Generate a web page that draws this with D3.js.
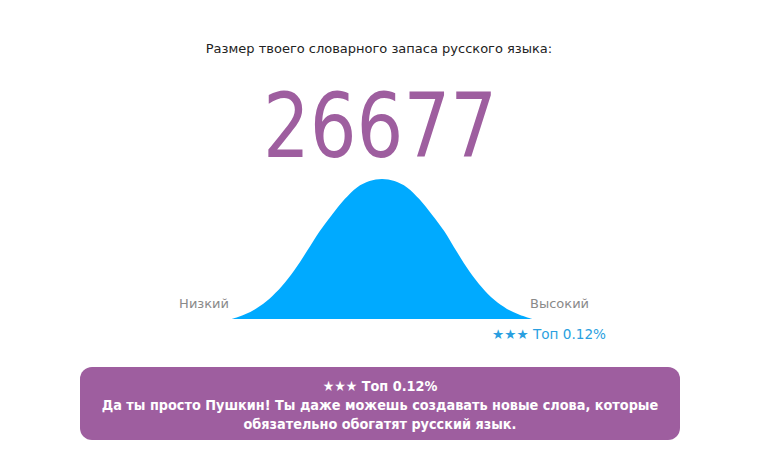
<!DOCTYPE html>
<html lang="ru">
<head>
<meta charset="UTF-8">
<title>Словарный запас</title>
<script src="https://cdnjs.cloudflare.com/ajax/libs/d3/7.8.5/d3.min.js"></script>
<style>
  html, body { margin: 0; padding: 0; background: #fff; }
  svg { display: block; }
</style>
</head>
<body>
<div id="chart"></div>
<script>
// Data
var title = "Размер твоего словарного запаса русского языка:";
var score = "26677";
var axisLabels = ["Низкий", "Высокий"];
var rankLabel = "★★★ Топ 0.12%";
var messageLines = [
  "★★★ Топ 0.12%",
  "Да ты просто Пушкин! Ты даже можешь создавать новые слова, которые",
  "обязательно обогатят русский язык."
];
// bell curve: position (in std units) and relative height
var curveX = [-3, -2.75, -2.5, -2.25, -2, -1.75, -1.5, -1.25, -1, -0.75, -0.5, -0.25, 0,
              0.25, 0.5, 0.75, 1, 1.25, 1.5, 1.75, 2, 2.25, 2.5, 2.75, 3];
var curveY = [0, 0.032, 0.078, 0.145, 0.235, 0.35, 0.485, 0.625, 0.745, 0.855, 0.94, 0.985, 1,
              0.985, 0.94, 0.855, 0.745, 0.625, 0.478, 0.34, 0.225, 0.135, 0.072, 0.03, 0];

var w = 766, h = 457;
var purple = "#9e5e9f";
var blue = "#00aaff";

var svg = d3.select("#chart").append("svg")
  .attr("width", w)
  .attr("height", h);

// heading and score
svg.append("text")
  .attr("x", 379).attr("y", 53)
  .attr("text-anchor", "middle")
  .attr("font-family", "DejaVu Sans")
  .attr("font-size", "13px")
  .attr("fill", "#222")
  .text(title);

svg.append("text")
  .attr("x", 380).attr("y", 157)
  .attr("text-anchor", "middle")
  .attr("font-family", "DejaVu Sans Condensed, DejaVu Sans")
  .attr("font-size", "89px")
  .attr("textLength", 234)
  .attr("lengthAdjust", "spacingAndGlyphs")
  .attr("fill", purple)
  .text(score);

// scales for the curve
var x = d3.scaleLinear().domain([-3, 3]).range([232, 532]);
var y = d3.scaleLinear().domain([0, 1]).range([319, 179]);

var points = curveX.map(function(d, i) { return [d, curveY[i]]; });

var area = d3.area()
  .x(function(d) { return x(d[0]); })
  .y0(y(0))
  .y1(function(d) { return y(d[1]); })
  .curve(d3.curveCatmullRom);

svg.append("path")
  .datum(points)
  .attr("d", area)
  .attr("fill", blue);

// low / high labels
svg.append("text")
  .attr("x", x(-3) - 3).attr("y", 308)
  .attr("text-anchor", "end")
  .attr("font-family", "DejaVu Sans")
  .attr("font-size", "13px")
  .attr("fill", "#8a8a8a")
  .text(axisLabels[0]);

svg.append("text")
  .attr("x", x(3) - 2).attr("y", 308)
  .attr("text-anchor", "start")
  .attr("font-family", "DejaVu Sans")
  .attr("font-size", "13px")
  .attr("fill", "#8a8a8a")
  .text(axisLabels[1]);

svg.append("text")
  .attr("x", 606).attr("y", 339)
  .attr("text-anchor", "end")
  .attr("font-family", "DejaVu Sans")
  .attr("font-size", "13.6px")
  .attr("fill", "#2a9fe0")
  .text(rankLabel);

// message box
svg.append("rect")
  .attr("x", 80).attr("y", 367)
  .attr("width", 600).attr("height", 73)
  .attr("rx", 12).attr("ry", 12)
  .attr("fill", purple);

svg.selectAll("text.msg")
  .data(messageLines)
  .enter()
  .append("text")
  .attr("class", "msg")
  .attr("x", 380)
  .attr("y", function(d, i) { return 391 + i * 19; })
  .attr("text-anchor", "middle")
  .attr("font-family", "DejaVu Sans Condensed, DejaVu Sans")
  .attr("font-weight", "bold")
  .attr("font-size", "14.3px")
  .attr("fill", "#fff")
  .text(function(d) { return d; });
</script>
</body>
</html>
